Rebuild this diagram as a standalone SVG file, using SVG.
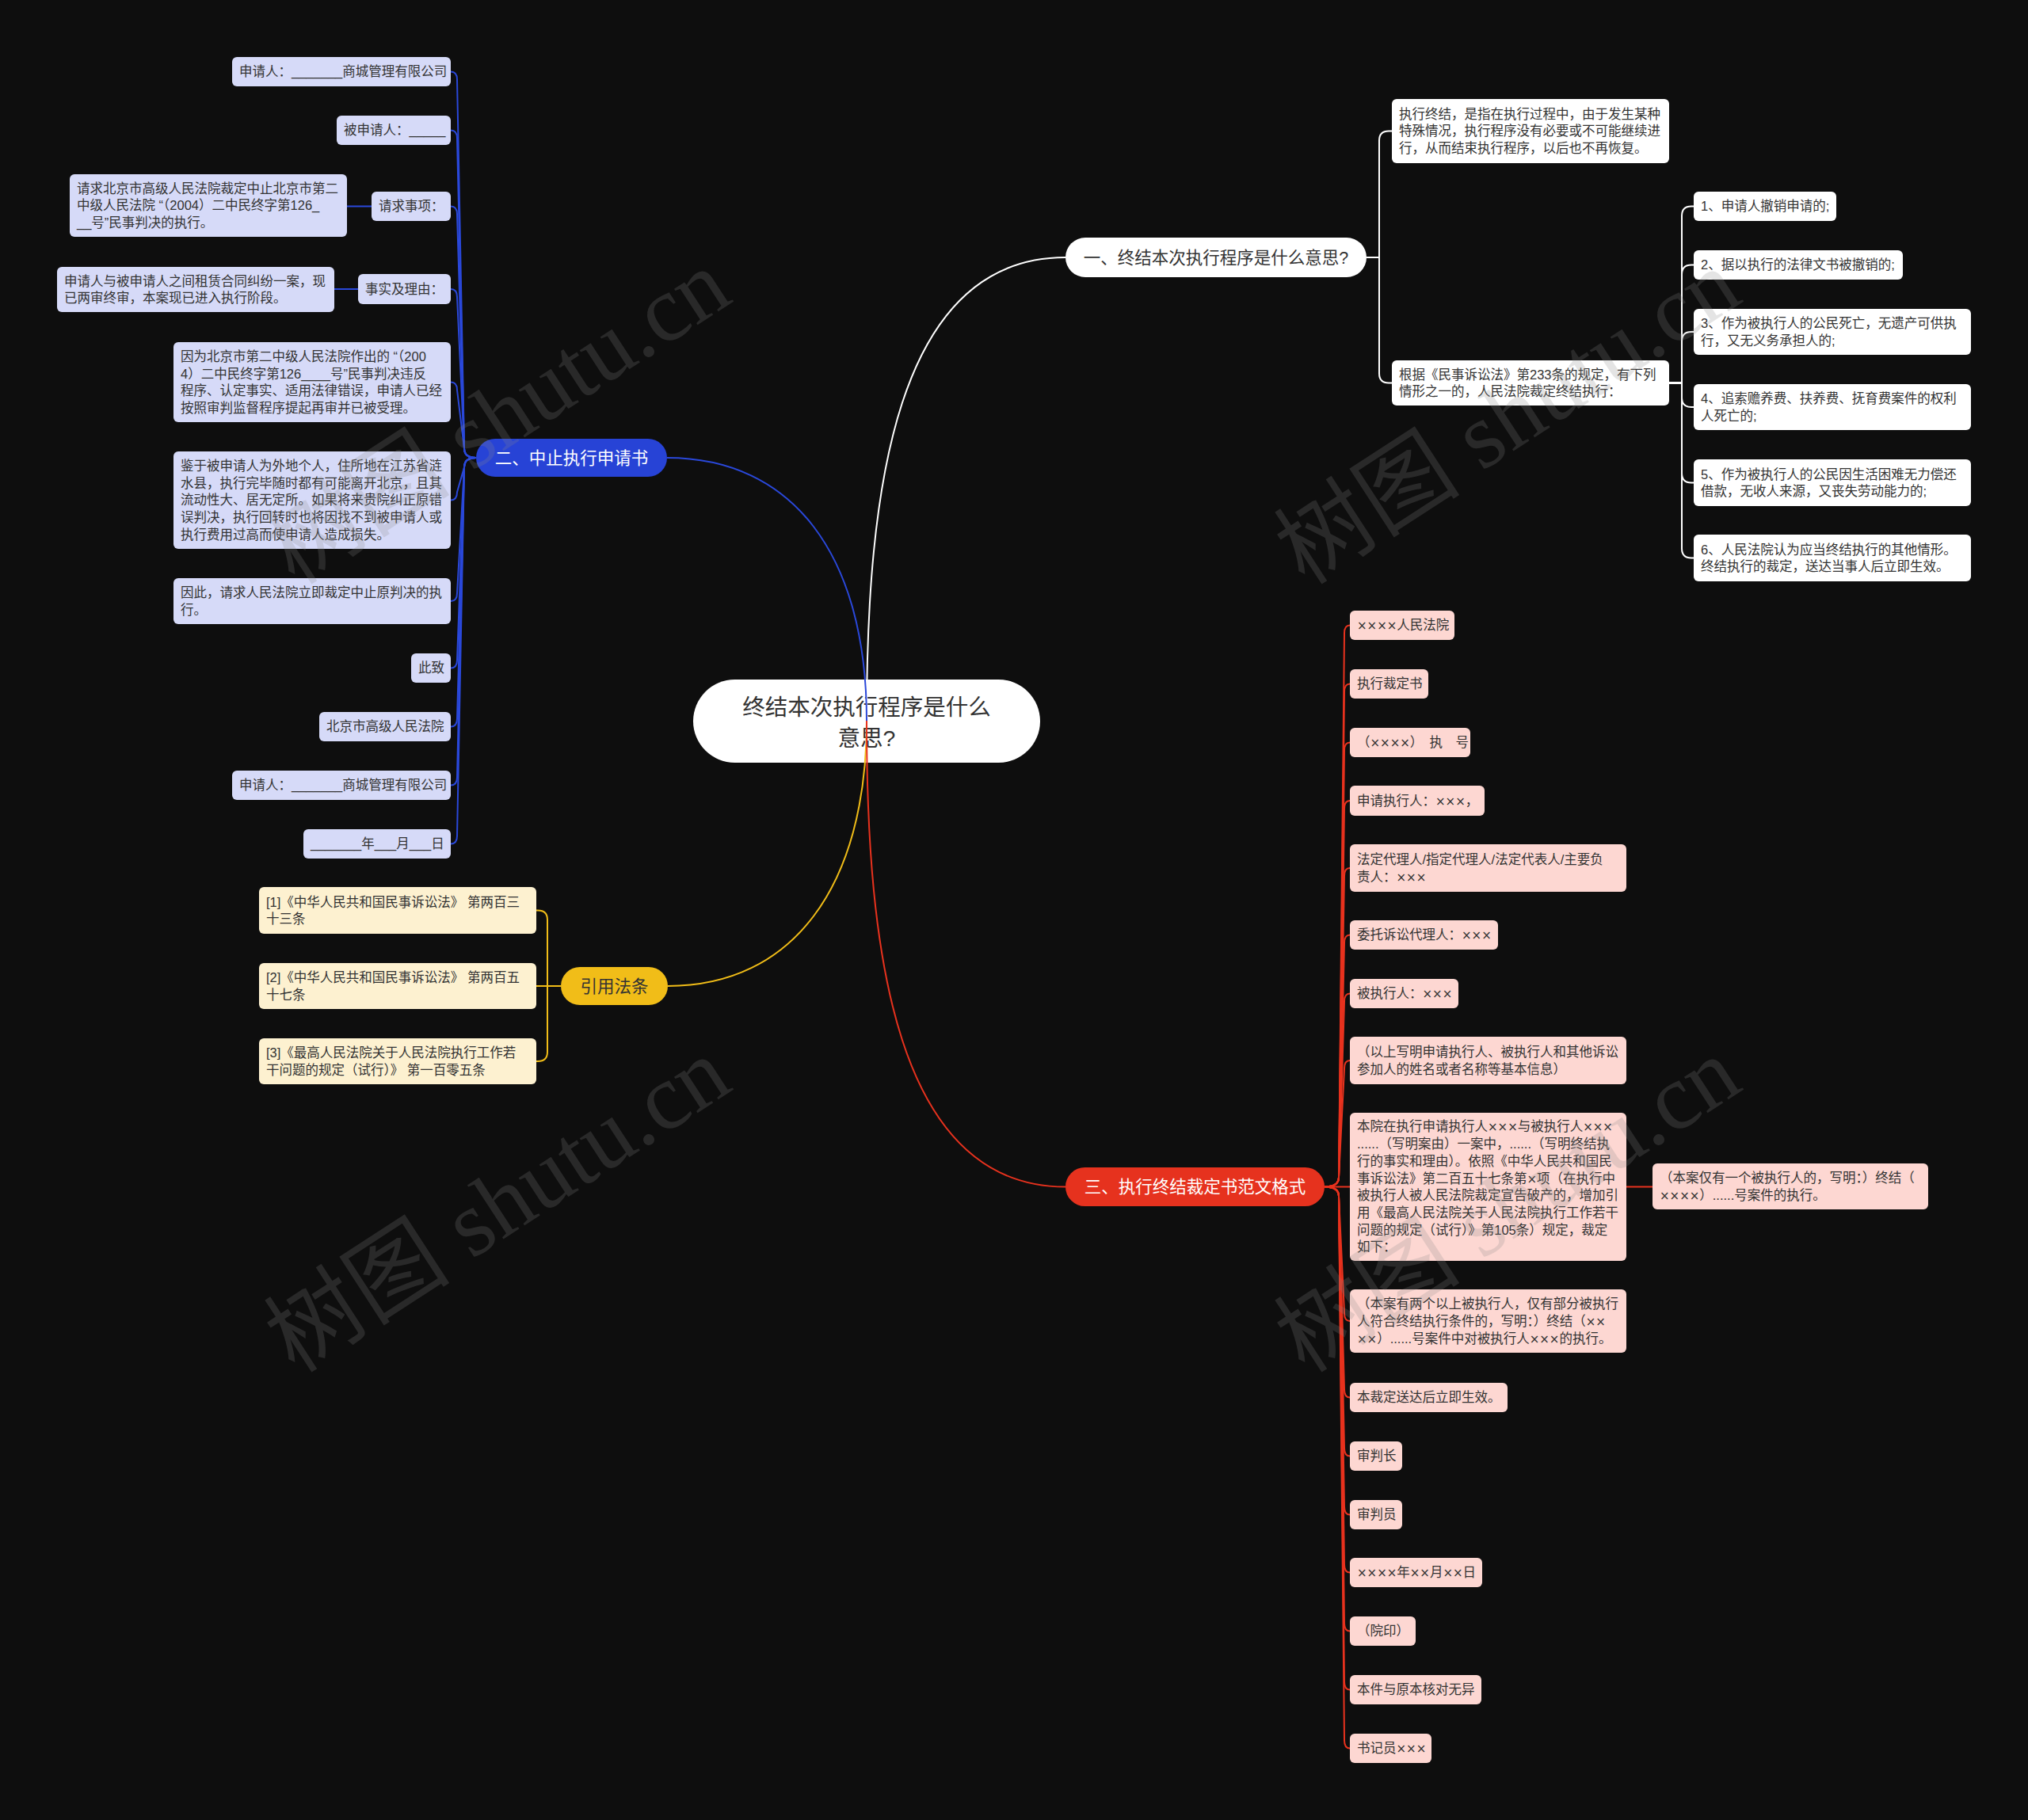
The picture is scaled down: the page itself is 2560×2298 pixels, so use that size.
<svg xmlns="http://www.w3.org/2000/svg" width="2560" height="2298" viewBox="0 0 2560 2298">
<style>
text{font-family:"Liberation Sans","Noto Sans CJK SC",sans-serif;font-size:16.5px;fill:#333}
.c{font-size:28.5px;text-anchor:middle;fill:#333}
.b{font-size:21.5px;text-anchor:middle}
.w{fill:#fff}
.x{font-family:"DejaVu Sans",sans-serif;font-size:15px}
.wn{fill:#fff}
.bl{fill:#d6daf8}
.ye{fill:#fdf1d0}
.rd{fill:#fdd7d2}
.cw{fill:none;stroke:#fff;stroke-width:2}
.cb{fill:none;stroke:#2a48da;stroke-width:2}
.cy{fill:none;stroke:#f1bd18;stroke-width:2}
.cr{fill:none;stroke:#e8321e;stroke-width:2}
.wm{font-family:"Liberation Serif","Noto Sans CJK SC",serif;font-size:118px;fill:#8a8a8a;opacity:.22;text-anchor:middle}
</style>
<rect width="2560" height="2298" fill="#0e0e0e"/>

<g id="root">
<rect x="875" y="858" width="438" height="105" rx="52.5" fill="#fff"/>
<text class="c"><tspan x="1094" y="903">终结本次执行程序是什么</tspan><tspan x="1094" y="942">意思?</tspan></text>
</g>

<g id="connectors">
<path class="cw" stroke-width="2.5" d="M1094,910 C1094,620 1130,325 1345,325"/>
<path class="cb" stroke-width="2.5" d="M1094,910 C1094,700 1000,578 842,578"/>
<path class="cy" stroke-width="2.5" d="M1094,910 C1094,1120 1000,1245 843,1245"/>
<path class="cr" stroke-width="2.5" d="M1094,910 C1094,1200 1130,1498.5 1345,1498.5"/>

<path class="cw" d="M1725,325 H1741 V177.5 Q1741,165.5 1753,165.5 H1757"/>
<path class="cw" d="M1725,325 H1741 V471.5 Q1741,483.5 1753,483.5 H1757"/>
<path class="cw" d="M2107,483.5 H2123 V272.5 Q2123,260.5 2135,260.5 H2138"/>
<path class="cw" d="M2107,483.5 H2123 V346.5 Q2123,334.5 2135,334.5 H2138"/>
<path class="cw" d="M2107,483.5 H2123 V431 Q2123,419 2135,419 H2138"/>
<path class="cw" d="M2107,483.5 H2123 V502 Q2123,514 2135,514 H2138"/>
<path class="cw" d="M2107,483.5 H2123 V597.5 Q2123,609.5 2135,609.5 H2138"/>
<path class="cw" d="M2107,483.5 H2123 V692.5 Q2123,704.5 2135,704.5 H2138"/>

<path class="cb" d="M601,578 Q586,578 586,566 L577,100.5 Q577,90.5 569,90.5"/>
<path class="cb" d="M601,578 Q586,578 586,566 L577,174.5 Q577,164.5 569,164.5"/>
<path class="cb" d="M601,578 Q586,578 586,566 L577,270.5 Q577,260.5 569,260.5"/>
<path class="cb" d="M601,578 Q586,578 586,566 L577,375 Q577,365 569,365"/>
<path class="cb" d="M601,578 Q586,578 586,566 L577,492.5 Q577,482.5 569,482.5"/>
<path class="cb" d="M601,578 Q586,578 586,590 L577,621.5 Q577,631.5 569,631.5"/>
<path class="cb" d="M601,578 Q586,578 586,590 L577,749 Q577,759 569,759"/>
<path class="cb" d="M601,578 Q586,578 586,590 L577,833.5 Q577,843.5 569,843.5"/>
<path class="cb" d="M601,578 Q586,578 586,590 L577,907.5 Q577,917.5 569,917.5"/>
<path class="cb" d="M601,578 Q586,578 586,590 L577,981.5 Q577,991.5 569,991.5"/>
<path class="cb" d="M601,578 Q586,578 586,590 L577,1055.5 Q577,1065.5 569,1065.5"/>
<path class="cb" d="M438,260.5 H469"/>
<path class="cb" d="M422,365 H452"/>

<path class="cy" d="M708,1245 H691 V1161.5 Q691,1149.5 679,1149.5 H677"/>
<path class="cy" d="M708,1245 H677"/>
<path class="cy" d="M708,1245 H691 V1328 Q691,1340 679,1340 H677"/>

<path class="cr" d="M1672,1498.5 Q1690,1498.5 1690,1486.5 L1697,799.5 Q1697,789.5 1704,789.5"/>
<path class="cr" d="M1672,1498.5 Q1690,1498.5 1690,1486.5 L1697,873.5 Q1697,863.5 1704,863.5"/>
<path class="cr" d="M1672,1498.5 Q1690,1498.5 1690,1486.5 L1697,947.5 Q1697,937.5 1704,937.5"/>
<path class="cr" d="M1672,1498.5 Q1690,1498.5 1690,1486.5 L1697,1021 Q1697,1011 1704,1011"/>
<path class="cr" d="M1672,1498.5 Q1690,1498.5 1690,1486.5 L1697,1106 Q1697,1096 1704,1096"/>
<path class="cr" d="M1672,1498.5 Q1690,1498.5 1690,1486.5 L1697,1190.5 Q1697,1180.5 1704,1180.5"/>
<path class="cr" d="M1672,1498.5 Q1690,1498.5 1690,1486.5 L1697,1264.5 Q1697,1254.5 1704,1254.5"/>
<path class="cr" d="M1672,1498.5 Q1690,1498.5 1690,1486.5 L1697,1349 Q1697,1339 1704,1339"/>
<path class="cr" d="M1672,1498.5 H1704"/>
<path class="cr" d="M1672,1498.5 Q1690,1498.5 1690,1510.5 L1697,1658 Q1697,1668 1704,1668"/>
<path class="cr" d="M1672,1498.5 Q1690,1498.5 1690,1510.5 L1697,1754.5 Q1697,1764.5 1704,1764.5"/>
<path class="cr" d="M1672,1498.5 Q1690,1498.5 1690,1510.5 L1697,1828.5 Q1697,1838.5 1704,1838.5"/>
<path class="cr" d="M1672,1498.5 Q1690,1498.5 1690,1510.5 L1697,1902.5 Q1697,1912.5 1704,1912.5"/>
<path class="cr" d="M1672,1498.5 Q1690,1498.5 1690,1510.5 L1697,1975.5 Q1697,1985.5 1704,1985.5"/>
<path class="cr" d="M1672,1498.5 Q1690,1498.5 1690,1510.5 L1697,2049.5 Q1697,2059.5 1704,2059.5"/>
<path class="cr" d="M1672,1498.5 Q1690,1498.5 1690,1510.5 L1697,2123.5 Q1697,2133.5 1704,2133.5"/>
<path class="cr" d="M1672,1498.5 Q1690,1498.5 1690,1510.5 L1697,2197.5 Q1697,2207.5 1704,2207.5"/>
<path class="cr" d="M2053,1498.5 H2086"/>
</g>

<g id="b1">
<rect x="1345" y="300" width="380" height="50" rx="25" fill="#fff"/>
<text class="b" x="1535" y="332.5">一、终结本次执行程序是什么意思?</text>
</g>
<g id="b1c1"><rect class="wn" x="1757" y="125" width="350" height="81" rx="6"/>
<text><tspan x="1766" y="149.6">执行终结，是指在执行过程中，由于发生某种</tspan><tspan x="1766" y="171.3">特殊情况，执行程序没有必要或不可能继续进</tspan><tspan x="1766" y="193">行，从而结束执行程序，以后也不再恢复。</tspan></text></g>
<g id="b1c2"><rect class="wn" x="1757" y="455" width="350" height="57" rx="6"/>
<text><tspan x="1766" y="478.5">根据《民事诉讼法》第233条的规定，有下列</tspan><tspan x="1766" y="500.2">情形之一的，人民法院裁定终结执行：</tspan></text></g>
<g id="b1i1"><rect class="wn" x="2138" y="242" width="180" height="37" rx="6"/><text x="2147" y="266.3">1、申请人撤销申请的;</text></g>
<g id="b1i2"><rect class="wn" x="2138" y="316" width="264" height="37" rx="6"/><text x="2147" y="340.3">2、据以执行的法律文书被撤销的;</text></g>
<g id="b1i3"><rect class="wn" x="2138" y="390" width="350" height="58" rx="6"/><text><tspan x="2147" y="414">3、作为被执行人的公民死亡，无遗产可供执</tspan><tspan x="2147" y="435.7">行，又无义务承担人的;</tspan></text></g>
<g id="b1i4"><rect class="wn" x="2138" y="485" width="350" height="58" rx="6"/><text><tspan x="2147" y="509">4、追索赡养费、扶养费、抚育费案件的权利</tspan><tspan x="2147" y="530.7">人死亡的;</tspan></text></g>
<g id="b1i5"><rect class="wn" x="2138" y="580" width="350" height="59" rx="6"/><text><tspan x="2147" y="604.5">5、作为被执行人的公民因生活困难无力偿还</tspan><tspan x="2147" y="626.2">借款，无收人来源，又丧失劳动能力的;</tspan></text></g>
<g id="b1i6"><rect class="wn" x="2138" y="675" width="350" height="59" rx="6"/><text><tspan x="2147" y="699.5">6、人民法院认为应当终结执行的其他情形。</tspan><tspan x="2147" y="721.2">终结执行的裁定，送达当事人后立即生效。</tspan></text></g>

<g id="b2">
<rect x="601" y="554" width="241" height="48" rx="24" fill="#2743d6"/>
<text class="b w" x="721.5" y="585.5">二、中止执行申请书</text>
</g>
<g id="b2c1"><rect class="bl" x="293" y="72" width="276" height="37" rx="6"/><text x="302" y="96.3">申请人：_______商城管理有限公司</text></g>
<g id="b2c2"><rect class="bl" x="425" y="146" width="144" height="37" rx="6"/><text x="434" y="170.3">被申请人：_____</text></g>
<g id="b2c3"><rect class="bl" x="469" y="242" width="100" height="37" rx="6"/><text x="478" y="266.3">请求事项：</text></g>
<g id="b2c3d"><rect class="bl" x="88" y="220" width="350" height="79" rx="6"/><text><tspan x="97" y="243.6">请求北京市高级人民法院裁定中止北京市第二</tspan><tspan x="97" y="265.3">中级人民法院 “（2004）二中民终字第126_</tspan><tspan x="97" y="287">__号”民事判决的执行。</tspan></text></g>
<g id="b2c4"><rect class="bl" x="452" y="346" width="117" height="38" rx="6"/><text x="461" y="370.8">事实及理由：</text></g>
<g id="b2c4d"><rect class="bl" x="72" y="337" width="350" height="57" rx="6"/><text><tspan x="81" y="360.5">申请人与被申请人之间租赁合同纠纷一案，现</tspan><tspan x="81" y="382.2">已两审终审，本案现已进入执行阶段。</tspan></text></g>
<g id="b2c5"><rect class="bl" x="219" y="432" width="350" height="101" rx="6"/><text><tspan x="228" y="455.8">因为北京市第二中级人民法院作出的 “（200</tspan><tspan x="228" y="477.5">4）二中民终字第126____号”民事判决违反</tspan><tspan x="228" y="499.2">程序、认定事实、适用法律错误，申请人已经</tspan><tspan x="228" y="520.9">按照审判监督程序提起再审并已被受理。</tspan></text></g>
<g id="b2c6"><rect class="bl" x="219" y="570" width="350" height="123" rx="6"/><text><tspan x="228" y="593.9">鉴于被申请人为外地个人，住所地在江苏省涟</tspan><tspan x="228" y="615.6">水县，执行完毕随时都有可能离开北京，且其</tspan><tspan x="228" y="637.3">流动性大、居无定所。如果将来贵院纠正原错</tspan><tspan x="228" y="659">误判决，执行回转时也将因找不到被申请人或</tspan><tspan x="228" y="680.7">执行费用过高而使申请人造成损失。</tspan></text></g>
<g id="b2c7"><rect class="bl" x="219" y="730" width="350" height="58" rx="6"/><text><tspan x="228" y="754">因此，请求人民法院立即裁定中止原判决的执</tspan><tspan x="228" y="775.7">行。</tspan></text></g>
<g id="b2c8"><rect class="bl" x="519" y="825" width="50" height="37" rx="6"/><text x="528" y="849.3">此致</text></g>
<g id="b2c9"><rect class="bl" x="403" y="899" width="166" height="37" rx="6"/><text x="412" y="923.3">北京市高级人民法院</text></g>
<g id="b2c10"><rect class="bl" x="293" y="973" width="276" height="37" rx="6"/><text x="302" y="997.3">申请人：_______商城管理有限公司</text></g>
<g id="b2c11"><rect class="bl" x="383" y="1047" width="186" height="37" rx="6"/><text x="392" y="1071.3">_______年___月___日</text></g>

<g id="b4">
<rect x="708" y="1221" width="135" height="48" rx="24" fill="#f1bd18"/>
<text class="b" x="775.5" y="1252.5">引用法条</text>
</g>
<g id="b4c1"><rect class="ye" x="327" y="1120" width="350" height="59" rx="6"/><text><tspan x="336" y="1144.5">[1]《中华人民共和国民事诉讼法》 第两百三</tspan><tspan x="336" y="1166.2">十三条</tspan></text></g>
<g id="b4c2"><rect class="ye" x="327" y="1216" width="350" height="58" rx="6"/><text><tspan x="336" y="1240">[2]《中华人民共和国民事诉讼法》 第两百五</tspan><tspan x="336" y="1261.7">十七条</tspan></text></g>
<g id="b4c3"><rect class="ye" x="327" y="1311" width="350" height="58" rx="6"/><text><tspan x="336" y="1335">[3]《最高人民法院关于人民法院执行工作若</tspan><tspan x="336" y="1356.7">干问题的规定（试行）》 第一百零五条</tspan></text></g>

<g id="b3">
<rect x="1345" y="1474" width="327" height="49" rx="24.5" fill="#e6321e"/>
<text class="b w" x="1508.5" y="1506">三、执行终结裁定书范文格式</text>
</g>
<g id="b3c1"><rect class="rd" x="1704" y="771" width="132" height="37" rx="6"/><text x="1713" y="795.3"><tspan class="x">××××</tspan>人民法院</text></g>
<g id="b3c2"><rect class="rd" x="1704" y="845" width="99" height="37" rx="6"/><text x="1713" y="869.3">执行裁定书</text></g>
<g id="b3c3"><rect class="rd" x="1704" y="919" width="152" height="37" rx="6"/><text x="1713" y="943.3">（<tspan class="x">××××</tspan>）　执　号</text></g>
<g id="b3c4"><rect class="rd" x="1704" y="992" width="170" height="38" rx="6"/><text x="1713" y="1016.8">申请执行人：<tspan class="x">×××</tspan>，</text></g>
<g id="b3c5"><rect class="rd" x="1704" y="1066" width="349" height="60" rx="6"/><text><tspan x="1713" y="1091">法定代理人/指定代理人/法定代表人/主要负</tspan><tspan x="1713" y="1112.7">责人：<tspan class="x">×××</tspan></tspan></text></g>
<g id="b3c6"><rect class="rd" x="1704" y="1162" width="187" height="37" rx="6"/><text x="1713" y="1186.3">委托诉讼代理人：<tspan class="x">×××</tspan></text></g>
<g id="b3c7"><rect class="rd" x="1704" y="1236" width="137" height="37" rx="6"/><text x="1713" y="1260.3">被执行人：<tspan class="x">×××</tspan></text></g>
<g id="b3c8"><rect class="rd" x="1704" y="1309" width="349" height="60" rx="6"/><text><tspan x="1713" y="1334">（以上写明申请执行人、被执行人和其他诉讼</tspan><tspan x="1713" y="1355.7">参加人的姓名或者名称等基本信息）</tspan></text></g>
<g id="b3c9"><rect class="rd" x="1704" y="1405" width="349" height="187" rx="6"/><text><tspan x="1713" y="1428.4">本院在执行申请执行人<tspan class="x">×××</tspan>与被执行人<tspan class="x">×××</tspan></tspan><tspan x="1713" y="1450.1">......（写明案由）一案中，......（写明终结执</tspan><tspan x="1713" y="1471.8">行的事实和理由）。依照《中华人民共和国民</tspan><tspan x="1713" y="1493.5">事诉讼法》第二百五十七条第<tspan class="x">×</tspan>项（在执行中</tspan><tspan x="1713" y="1515.2">被执行人被人民法院裁定宣告破产的，增加引</tspan><tspan x="1713" y="1536.9">用《最高人民法院关于人民法院执行工作若干</tspan><tspan x="1713" y="1558.6">问题的规定（试行）》第105条）规定，裁定</tspan><tspan x="1713" y="1580.3">如下：</tspan></text></g>
<g id="b3c9s"><rect class="rd" x="2086" y="1469" width="348" height="58" rx="6"/><text><tspan x="2095" y="1493">（本案仅有一个被执行人的，写明：）终结（</tspan><tspan x="2095" y="1514.7"><tspan class="x">××××</tspan>）......号案件的执行。</tspan></text></g>
<g id="b3c10"><rect class="rd" x="1704" y="1628" width="349" height="80" rx="6"/><text><tspan x="1713" y="1652.1">（本案有两个以上被执行人，仅有部分被执行</tspan><tspan x="1713" y="1673.8">人符合终结执行条件的，写明：）终结（<tspan class="x">××</tspan></tspan><tspan x="1713" y="1695.5"><tspan class="x">××</tspan>）......号案件中对被执行人<tspan class="x">×××</tspan>的执行。</tspan></text></g>
<g id="b3c11"><rect class="rd" x="1704" y="1746" width="199" height="37" rx="6"/><text x="1713" y="1770.3">本裁定送达后立即生效。</text></g>
<g id="b3c12"><rect class="rd" x="1704" y="1820" width="66" height="37" rx="6"/><text x="1713" y="1844.3">审判长</text></g>
<g id="b3c13"><rect class="rd" x="1704" y="1894" width="66" height="37" rx="6"/><text x="1713" y="1918.3">审判员</text></g>
<g id="b3c14"><rect class="rd" x="1704" y="1967" width="167" height="37" rx="6"/><text x="1713" y="1991.3"><tspan class="x">××××</tspan>年<tspan class="x">××</tspan>月<tspan class="x">××</tspan>日</text></g>
<g id="b3c15"><rect class="rd" x="1704" y="2041" width="83" height="37" rx="6"/><text x="1713" y="2065.3">（院印）</text></g>
<g id="b3c16"><rect class="rd" x="1704" y="2115" width="166" height="37" rx="6"/><text x="1713" y="2139.3">本件与原本核对无异</text></g>
<g id="b3c17"><rect class="rd" x="1704" y="2189" width="103" height="37" rx="6"/><text x="1713" y="2213.3">书记员<tspan class="x">×××</tspan></text></g>

<g id="watermark">
<text class="wm" transform="translate(650,560) rotate(-33)">树图 shutu.cn</text>
<text class="wm" transform="translate(650,1555) rotate(-33)">树图 shutu.cn</text>
<text class="wm" transform="translate(1925,560) rotate(-33)">树图 shutu.cn</text>
<text class="wm" transform="translate(1925,1555) rotate(-33)">树图 shutu.cn</text>
</g>
</svg>
